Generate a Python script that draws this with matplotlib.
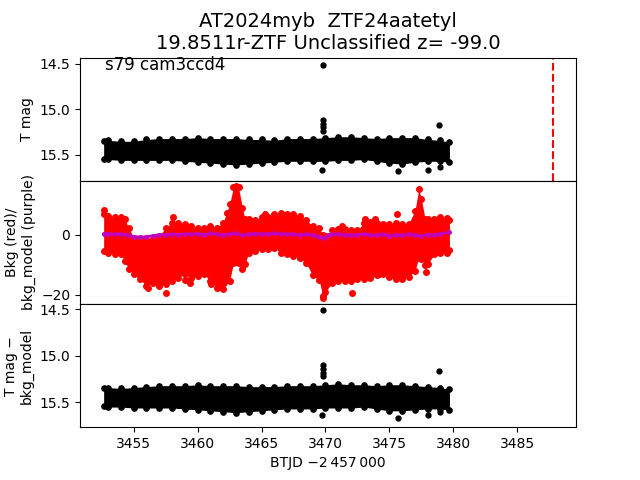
import numpy as np
import matplotlib
matplotlib.use("Agg")
import matplotlib.pyplot as plt

# --- data (BTJD - 2457000) ---
t_band = [3452.65, 3453, 3454, 3455, 3456, 3457, 3458, 3459, 3460, 3461, 3462,
          3463, 3464, 3465, 3466, 3467, 3468, 3469, 3470, 3471, 3472, 3473,
          3474, 3475, 3476, 3477, 3478, 3479, 3479.7]

# T mag band (upper / lower envelope of the dense points)
top_upper = [15.35, 15.34, 15.35, 15.35, 15.33, 15.32, 15.32, 15.32, 15.31, 15.32, 15.32,
             15.32, 15.33, 15.33, 15.34, 15.32, 15.32, 15.32, 15.31, 15.30, 15.30, 15.31,
             15.32, 15.31, 15.31, 15.31, 15.33, 15.34, 15.36]
top_lower = [15.54, 15.55, 15.56, 15.56, 15.56, 15.56, 15.56, 15.57, 15.58, 15.59, 15.60,
             15.61, 15.60, 15.59, 15.58, 15.57, 15.57, 15.57, 15.57, 15.56, 15.56, 15.55,
             15.57, 15.59, 15.60, 15.58, 15.57, 15.57, 15.58]
top_out_t = [3469.8, 3469.8, 3469.8, 3469.8, 3469.8, 3478.9, 3469.7, 3475.7, 3478.05, 3479.0]
top_out_m = [14.51, 15.12, 15.16, 15.19, 15.24, 15.17, 15.66, 15.68, 15.66, 15.63]

# T mag - bkg_model band
bot_upper = [15.35, 15.34, 15.35, 15.34, 15.33, 15.32, 15.32, 15.32, 15.31, 15.32, 15.32,
             15.32, 15.33, 15.33, 15.33, 15.32, 15.32, 15.32, 15.31, 15.30, 15.31, 15.31,
             15.32, 15.31, 15.31, 15.32, 15.33, 15.34, 15.36]
bot_lower = [15.54, 15.55, 15.55, 15.56, 15.56, 15.56, 15.56, 15.57, 15.58, 15.59, 15.60,
             15.61, 15.60, 15.59, 15.58, 15.57, 15.57, 15.57, 15.56, 15.56, 15.56, 15.55,
             15.57, 15.59, 15.59, 15.58, 15.57, 15.57, 15.58]
bot_out_t = [3469.8, 3469.8, 3469.8, 3469.8, 3469.8, 3478.9, 3469.7, 3475.7, 3478.05, 3479.0]
bot_out_m = [14.51, 15.10, 15.14, 15.18, 15.22, 15.16, 15.64, 15.67, 15.64, 15.60]

# background (red) envelope
t_bkg = [3452.65, 3453.0, 3453.5, 3454.0, 3454.3, 3454.6, 3455.0, 3455.5, 3456.0, 3456.5,
         3457.0, 3457.5, 3458.0, 3458.5, 3459.0, 3459.5, 3460.0, 3460.5, 3461.0, 3461.5,
         3462.0, 3462.5, 3462.8, 3463.0, 3463.2, 3463.5, 3463.7, 3464.0, 3464.5, 3465.0,
         3465.5, 3466.0, 3466.5, 3467.0, 3467.5, 3468.0, 3468.5, 3469.0, 3469.5, 3469.8,
         3470.0, 3470.5, 3471.0, 3471.5, 3472.0, 3472.5, 3473.0, 3473.5, 3474.0, 3474.5,
         3475.0, 3475.5, 3476.0, 3476.5, 3477.0, 3477.3, 3477.5, 3477.8, 3478.0, 3478.5,
         3479.0, 3479.5, 3479.7]
bkg_upper = [6.9, 6.3, 5.8, 5.8, 5.2, 2.4, -0.9, -1.4, -1.4, -1.4,
             -0.3, 2.4, 3.8, 3.8, 3.6, 3.0, 2.4, 2.4, 3.0, 2.4,
             4.1, 10.2, 15.8, 16.3, 15.8, 9.1, 5.2, 5.2, 4.9, 5.8,
             5.8, 6.9, 7.2, 7.0, 7.0, 6.3, 5.0, 2.8, 2.2, 0.0,
             -0.3, 1.5, 2.0, 1.8, 1.5, 1.5, 4.0, 4.2, 4.0, 3.5,
             3.5, 3.8, 3.6, 3.6, 8.0, 15.2, 12.0, 5.2, 5.2, 5.2,
             5.8, 5.5, 5.0]
bkg_lower = [-5.3, -5.9, -6.2, -6.4, -8.7, -11.4, -13.1, -14.8, -17.0, -15.9,
             -17.0, -16.4, -15.3, -14.2, -13.1, -14.2, -13.7, -13.1, -15.3, -17.6,
             -18.1, -15.3, -9.5, -9.0, -9.5, -11.4, -9.8, -5.9, -5.3, -4.8,
             -4.8, -4.2, -6.0, -6.3, -7.0, -7.6, -9.5, -13.5, -15.0, -20.3,
             -19.0, -16.0, -15.3, -15.3, -15.3, -14.8, -14.8, -14.5, -13.5, -13.1,
             -14.0, -14.8, -14.8, -14.0, -12.0, -7.6, -8.0, -10.0, -9.8, -6.5,
             -5.9, -5.9, -5.0]
bkg_out_t = [3452.65, 3458.09, 3462.3, 3465.3, 3456.12, 3457.56, 3458.99, 3459.38, 3461.08,
             3469.8, 3471.26, 3472.05, 3473.1, 3473.9, 3475.6, 3474.2, 3477.9]
bkg_out_v = [8.2, 6.0, 7.4, 6.9, -17.6, -19.2, -15.1, -15.9, -16.4,
             -20.9, 2.8, -19.2, 5.2, 5.2, 6.9, -13.1, -12.2]

# background model (purple)
t_model = [3452.65, 3453, 3453.5, 3454, 3454.5, 3455, 3455.5, 3456, 3456.5, 3457,
           3457.5, 3458, 3458.5, 3459, 3459.5, 3460, 3460.5, 3461, 3461.5, 3462,
           3462.5, 3463, 3463.5, 3464, 3464.5, 3465, 3465.5, 3466, 3466.5, 3467,
           3467.5, 3468, 3468.5, 3469, 3469.5, 3469.9, 3470.2, 3470.5, 3471, 3471.5,
           3472, 3472.5, 3473, 3473.5, 3474, 3474.5, 3475, 3475.5, 3476, 3476.5,
           3477, 3477.5, 3478, 3478.5, 3479, 3479.7]
bkg_model = [0.3, 0.4, 0.2, 0.3, 0.0, -0.6, -0.7, -0.6, -0.3, 0.0,
             0.1, 0.2, 0.1, 0.3, 0.2, 0.4, 0.1, 0.5, 0.2, 0.0,
             0.3, 0.6, -0.2, 0.3, 0.4, 0.3, 0.4, 0.5, 0.4, 0.2,
             0.3, 0.0, 0.2, -0.1, -0.6, -1.2, -0.2, 0.2, 0.3, 0.0,
             -0.2, 0.1, 0.3, 0.0, -0.2, 0.2, -0.3, 0.0, -0.2, 0.2,
             0.0, -0.4, 0.1, 0.0, 0.4, 0.9]

t_discovery = 3487.8

fig, axes = plt.subplots(3, 1, sharex=True, figsize=(6.4, 4.8))
fig.subplots_adjust(hspace=0)
ax1, ax2, ax3 = axes

# top: T mag
ax1.fill_between(t_band, top_lower, top_upper, color='k', lw=0)
ax1.plot(t_band, top_upper, 'ko', ms=3.8)
ax1.plot(t_band, top_lower, 'ko', ms=3.8)
ax1.plot(top_out_t, top_out_m, 'ko', ms=3.5)
ax1.axvline(t_discovery, color='r', ls='--', lw=1.5)
ax1.set_ylim(15.784, 14.431)
ax1.set_ylabel("T mag")
ax1.text(0.05, 0.9, "s79 cam3ccd4", transform=ax1.transAxes, fontsize=12)
ax1.set_title("AT2024myb  ZTF24aatetyl\n19.8511r-ZTF Unclassified z= -99.0", fontsize=14)

# middle: background and model
ax2.fill_between(t_bkg, bkg_lower, bkg_upper, color='r', lw=0)
ax2.plot(t_bkg, bkg_upper, 'ro', ms=4)
ax2.plot(t_bkg, bkg_lower, 'ro', ms=4)
ax2.plot(bkg_out_t, bkg_out_v, 'ro', ms=4)
ax2.plot(t_model, bkg_model, color='m', marker='o', ms=2.5, lw=2)
ax2.set_ylim(-23, 18)
ax2.set_yticks([-20, 0])
ax2.set_ylabel("Bkg (red)/\nbkg_model (purple)")

# bottom: T mag - bkg_model
ax3.fill_between(t_band, bot_lower, bot_upper, color='k', lw=0)
ax3.plot(t_band, bot_upper, 'ko', ms=3.8)
ax3.plot(t_band, bot_lower, 'ko', ms=3.8)
ax3.plot(bot_out_t, bot_out_m, 'ko', ms=3.5)
ax3.set_ylim(15.766, 14.443)
ax3.set_ylabel("T mag \u2212\nbkg_model")
ax3.set_xlim(3450.8, 3489.6)
ax3.set_xlabel("BTJD \u22122\u2009457\u2009000")

plt.savefig("out.png", dpi=100)
